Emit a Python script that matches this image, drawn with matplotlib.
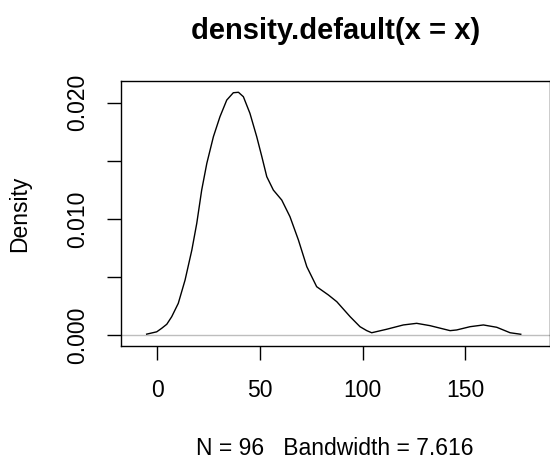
import matplotlib
matplotlib.use("Agg")
import matplotlib.pyplot as plt

# density curve (x value, density)
curve_x = [-5.2, -0.3, 2.1, 4.6, 7.0, 10.2, 13.5, 16.8, 19.2, 21.6, 24.1, 27.3,
           30.5, 33.8, 37.0, 39.5, 41.9, 45.1, 48.4, 50.9, 53.3, 56.5, 60.6,
           64.6, 68.7, 72.8, 77.6, 83.3, 87.4, 93.9, 98.7, 102.0, 104.4, 111.7,
           119.8, 126.3, 132.8, 142.6, 145.8, 152.3, 158.8, 165.3, 171.8, 177.0]
curve_y = [0.0001, 0.0003, 0.0006, 0.00095, 0.0016, 0.00275, 0.00475, 0.00733,
           0.00963, 0.01249, 0.01479, 0.01708, 0.0188, 0.02023, 0.02086, 0.0209,
           0.02052, 0.01909, 0.01708, 0.01536, 0.01364, 0.01249, 0.01163,
           0.0102, 0.0082, 0.0059, 0.00418, 0.00347, 0.00289, 0.0016, 0.00074,
           0.0004, 0.00022, 0.00052, 0.00089, 0.00103, 0.00083, 0.0004, 0.00046,
           0.00074, 0.00089, 0.00069, 0.00022, 0.00009]

x_ticks = [0, 50, 100, 150]
y_ticks = [0.000, 0.005, 0.010, 0.015, 0.020]
y_labels = ["0.000", "", "0.010", "", "0.020"]

title = "density.default(x = x)"
xlabel = "N = 96   Bandwidth = 7.616"

plt.rcParams['font.family'] = ['Liberation Sans', 'DejaVu Sans']

W, H = 550, 463
fig = plt.figure(figsize=(W / 100, H / 100), dpi=100)
ax = fig.add_axes([121 / W, (H - 346) / H, (549.5 - 121) / W, (346 - 81) / H])

ax.plot(curve_x, curve_y, color="black", lw=1.0)
ax.axhline(0, color="#bebebe", lw=1.0, zorder=0)

ax.set_xlim(-17.7, 191.0)
ax.set_ylim(-0.00092, 0.02187)

ax.set_xticks(x_ticks)
ax.set_xticklabels([str(t) for t in x_ticks])
ax.set_yticks(y_ticks)
ax.set_yticklabels(y_labels, rotation=90, va="center")
ax.tick_params(length=10, width=1, labelsize=16.5, color="black")
ax.tick_params(axis="x", pad=14)
ax.tick_params(axis="y", pad=13)

for s in ax.spines.values():
    s.set_color("black")
    s.set_linewidth(1)

ax.set_ylabel("Density", fontsize=16.5, labelpad=25)
ax.set_xlabel(xlabel, fontsize=16.5, labelpad=25)
ax.set_title(title, fontsize=21, fontweight="bold", pad=30)

fig.savefig("out.png", dpi=100)
